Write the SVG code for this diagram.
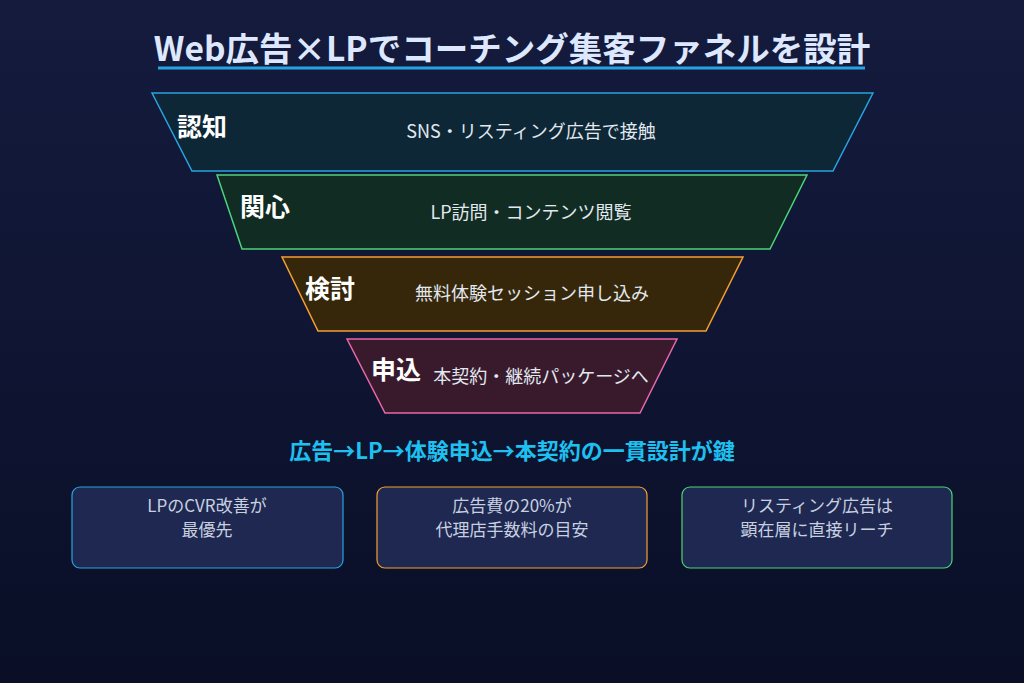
<svg xmlns="http://www.w3.org/2000/svg" width="1024" height="683" viewBox="0 0 1024 683">
<defs>
<linearGradient id="bg" x1="0" y1="0" x2="0" y2="1"><stop offset="0" stop-color="#141b3d"/><stop offset="1" stop-color="#0a0f27"/></linearGradient>
<style>
text{font-family:"Noto Sans CJK JP","Noto Sans",sans-serif}
.st{font-size:25px;font-weight:700;fill:#ffffff}
.bd{font-size:18px;fill:#e2e8f0;text-anchor:middle}
.bx{fill:#1e2850;stroke-width:1.2}
.bt{font-size:17px;fill:#c8d0e0;text-anchor:middle}
</style>
</defs>
<rect width="1024" height="683" fill="url(#bg)"/>
<text x="512" y="61" text-anchor="middle" font-size="33.5" font-weight="700" fill="#dde8ff">Web広告×LPでコーチング集客ファネルを設計</text>
<line x1="158" y1="68" x2="865" y2="68" stroke="#29a3e0" stroke-width="3"/>
<g id="s1"><polygon points="152,93 873,93 833,171 192,171" fill="#0d2736" stroke="#29a3e0" stroke-width="1.5"/><text class="st" x="177" y="136">認知</text><text class="bd" x="531" y="138">SNS・リスティング広告で接触</text></g>
<g id="s2"><polygon points="217,175 807,175 770,249 242,249" fill="#112c22" stroke="#4cd47a" stroke-width="1.5"/><text class="st" x="240" y="216">関心</text><text class="bd" x="531" y="219">LP訪問・コンテンツ閲覧</text></g>
<g id="s3"><polygon points="282,257 743,257 706,331 318,331" fill="#36270a" stroke="#f5a030" stroke-width="1.5"/><text class="st" x="305" y="298">検討</text><text class="bd" x="532" y="300">無料体験セッション申し込み</text></g>
<g id="s4"><polygon points="347,339 677,339 640,413 385,413" fill="#381a2c" stroke="#e868a8" stroke-width="1.5"/><text class="st" x="371" y="379">申込</text><text class="bd" x="541" y="383">本契約・継続パッケージへ</text></g>
<text x="512" y="459" text-anchor="middle" font-size="22" font-weight="700" fill="#1ec0f0">広告→LP→体験申込→本契約の一貫設計が鍵</text>
<g id="b1"><rect class="bx" x="72" y="487" width="271" height="81" rx="8" stroke="#29a3e0"/><text class="bt" x="207" y="512">LPのCVR改善が</text><text class="bt" x="207" y="536">最優先</text></g>
<g id="b2"><rect class="bx" x="377" y="487" width="270" height="81" rx="8" stroke="#f5a030"/><text class="bt" x="512" y="512">広告費の20%が</text><text class="bt" x="512" y="536">代理店手数料の目安</text></g>
<g id="b3"><rect class="bx" x="682" y="487" width="270" height="81" rx="8" stroke="#4cd47a"/><text class="bt" x="817" y="512">リスティング広告は</text><text class="bt" x="817" y="536">顕在層に直接リーチ</text></g>
<g id="connectors"/>
</svg>
